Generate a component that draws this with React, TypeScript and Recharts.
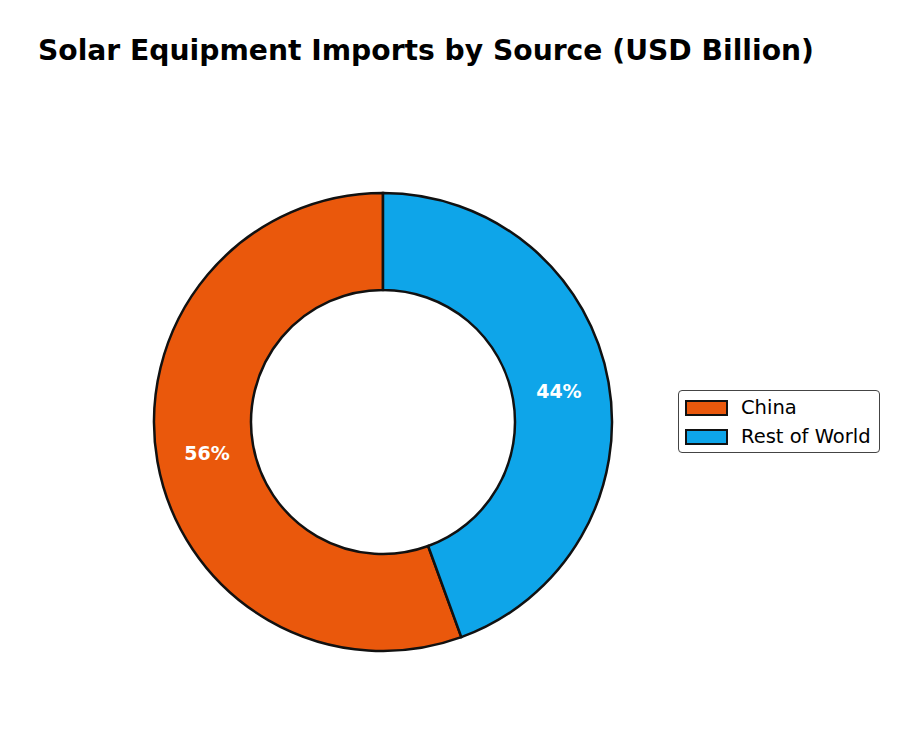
import { PieChart, Pie, Cell, Legend } from 'recharts';

// Import values in USD billion
const sources = ['China', 'Rest of World'];
const values = [50, 40];
const colors = ['#EA580C', '#0EA5E9'];

const data = sources.map((name, i) => ({ name, value: values[i] }));

const RADIAN = Math.PI / 180;

const renderPct = (props: any) => {
  const { cx, cy, midAngle, outerRadius, percent } = props;
  const r = outerRadius * 0.78;
  const x = cx + r * Math.cos(-midAngle * RADIAN);
  const y = cy + r * Math.sin(-midAngle * RADIAN);
  return (
    <text
      x={x}
      y={y}
      fill="#fff"
      textAnchor="middle"
      dominantBaseline="central"
      fontFamily="DejaVu Sans"
      fontWeight="bold"
      fontSize={19}
    >
      {`${Math.round(percent * 100)}%`}
    </text>
  );
};

const renderLegend = () => (
  <div
    style={{
      boxSizing: 'border-box',
      width: 202,
      height: 63,
      border: '1.5px solid #444',
      borderRadius: 4,
      background: '#fff',
      padding: '2px 0 0 6px',
      fontFamily: 'DejaVu Sans',
      fontSize: 19.5,
      color: '#000',
    }}
  >
    {sources.map((name, i) => (
      <div key={name} style={{ display: 'flex', alignItems: 'center', height: 29 }}>
        <span
          style={{
            display: 'inline-block',
            boxSizing: 'border-box',
            width: 43,
            height: 16,
            background: colors[i],
            border: '2.5px solid #111',
            marginRight: 13,
          }}
        />
        {name}
      </div>
    ))}
  </div>
);

export default function App() {
  return (
    <div style={{ position: 'absolute', left: 0, top: 0, width: 918, height: 745, background: '#fff' }}>
      <div
        style={{
          position: 'absolute',
          left: 38,
          top: 34,
          fontFamily: 'DejaVu Sans',
          fontWeight: 'bold',
          fontSize: 28.2,
          whiteSpace: 'nowrap',
        }}
      >
        Solar Equipment Imports by Source (USD Billion)
      </div>
      <PieChart width={918} height={745} margin={{ top: 0, right: 0, bottom: 0, left: 0 }}>
        <Pie
          data={data}
          dataKey="value"
          nameKey="name"
          cx={383}
          cy={422}
          innerRadius={132}
          outerRadius={229}
          startAngle={90}
          endAngle={450}
          stroke="#111"
          strokeWidth={2.5}
          label={renderPct}
          labelLine={false}
          isAnimationActive={false}
        >
          {data.map((d, i) => (
            <Cell key={d.name} fill={colors[i]} />
          ))}
        </Pie>
        <Legend
          content={renderLegend}
          wrapperStyle={{ position: 'absolute', left: 678, top: 390, width: 'auto' }}
        />
      </PieChart>
    </div>
  );
}
